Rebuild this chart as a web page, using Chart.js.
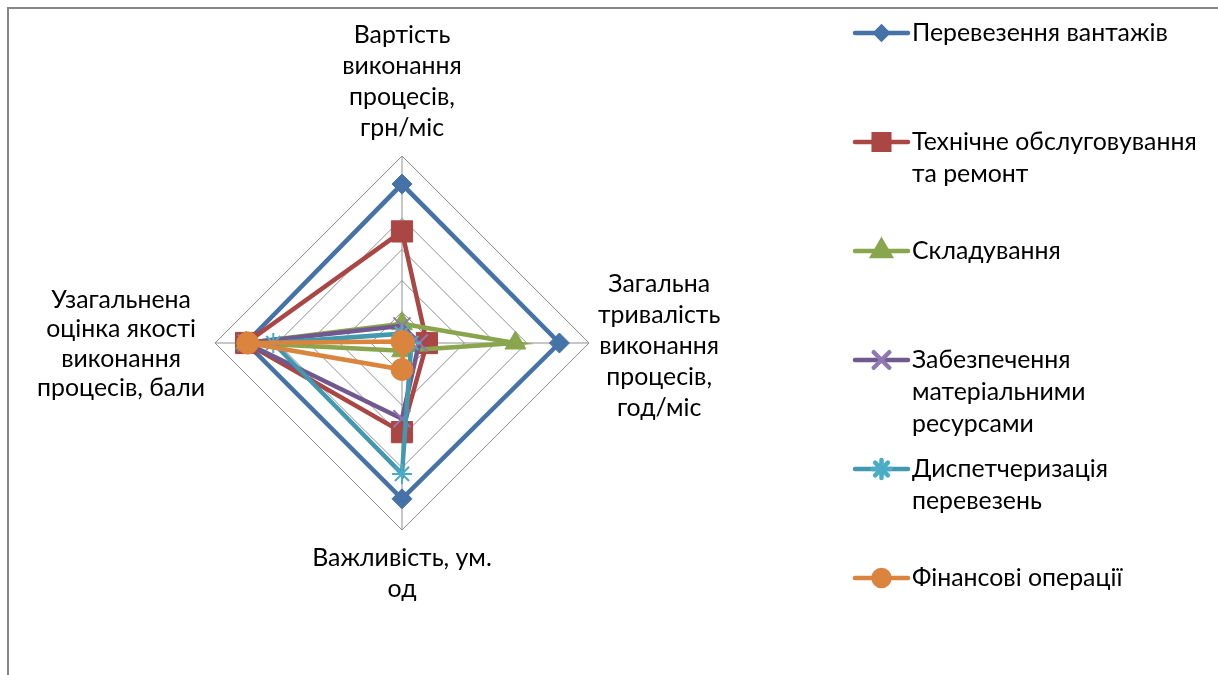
<!DOCTYPE html>
<html><head><meta charset="utf-8">
<script src="https://cdn.jsdelivr.net/npm/chart.js@4.4.1/dist/chart.umd.min.js"></script>
<style>
html,body{margin:0;padding:0;background:#fff;}
#wrap{position:relative;width:1218px;height:675px;overflow:hidden;background:#fff;}
#frame{position:absolute;left:7px;top:7px;right:-10px;bottom:-10px;border-top:2px solid #868686;border-left:2px solid #868686;}
canvas{position:absolute;left:0;top:0;}
</style></head><body>
<div id="wrap"><div id="frame"></div><canvas id="c" width="1218" height="675"></canvas></div>
<script>
// ---- data ----
const axisLabels = [
  ["Вартість", "виконання", "процесів,", "грн/міс"],
  ["Загальна", "тривалість", "виконання", "процесів,", "год/міс"],
  ["Важливість, ум.", "од"],
  ["Узагальнена", "оцінка якості", "виконання", "процесів, бали"]
];
const seriesNames = [
  ["Перевезення вантажів"],
  ["Технічне обслуговування", "та ремонт"],
  ["Складування"],
  ["Забезпечення", "матеріальними", "ресурсами"],
  ["Диспетчеризація", "перевезень"],
  ["Фінансові операції"]
];
const cargo       = [5.1, 5.05, 5.0, 5.0];
const maintenance = [3.58, 0.8, 2.86, 5.0];
const storage     = [0.62, 3.64, 0.25, 5.0];
const supply      = [0.55, 0.55, 2.43, 5.0];
const dispatch    = [0.3, 0.3, 4.2, 4.13];
const finance     = [0.05, 0.05, 0.85, 4.95];
const scaleMin = 0, scaleMax = 6, scaleStep = 1;

// ---- styles ----
const FONT = 'Lato, "Noto Sans", sans-serif';
const colors = ['#4572A7', '#AA4643', '#89A54E', '#71588F', '#4198AF', '#DB843D'];
const markerColors = ['#4572A7', '#AA4643', '#89A54E', '#8F78B0', '#4BACC6', '#DB843D'];
const styles = ['rectRot', 'rect', 'triangle', 'crossRot', 'star', 'circle'];
const radii = [10, 15, 12, 12, 10, 11];
const legendRadii = [6, 11, 10, 11, 9, 8];
const seriesData = [cargo, maintenance, storage, supply, dispatch, finance];

const datasets = seriesData.map((d, i) => ({
  label: seriesNames[i].join(' '),
  data: d,
  borderColor: colors[i],
  backgroundColor: colors[i],
  borderWidth: 4.5,
  fill: false,
  pointStyle: styles[i],
  pointRadius: radii[i],
  pointHoverRadius: radii[i],
  pointBackgroundColor: markerColors[i],
  pointBorderColor: markerColors[i],
  pointBorderWidth: (styles[i] === 'crossRot' || styles[i] === 'star') ? 2 : 1,
  order: 6 - i
}));

// measure font size so legend text width matches
const mctx = document.createElement('canvas').getContext('2d');
mctx.font = '20px ' + FONT;
const FS = 20 * 256 / mctx.measureText('Перевезення вантажів').width;

const overlay = {
  id: 'overlay',
  afterDraw(chart) {
    const ctx = chart.ctx, r = chart.scales.r;
    const R = r.drawingArea;
    ctx.save();
    ctx.font = FS + 'px ' + FONT;
    ctx.fillStyle = '#000';
    ctx.textBaseline = 'middle';
    ctx.textAlign = 'center';
    // axis titles
    const LH = 31;
    axisLabels.forEach((lines, i) => {
      const n = lines.length;
      const maxW = Math.max(...lines.map(t => ctx.measureText(t).width));
      let x, y0;
      if (i === 0) { const p = r.getPointPosition(0, R + 28); x = p.x; y0 = p.y - (n - 1) * LH; }
      else if (i === 1) { const p = r.getPointPosition(1, R + 9); x = p.x + maxW / 2; y0 = p.y + 3 - (n - 1) * LH / 2; }
      else if (i === 2) { const p = r.getPointPosition(2, R + 15); x = p.x; y0 = p.y + 13; }
      else { const p = r.getPointPosition(3, R + 10); x = p.x - maxW / 2; y0 = p.y + 1 - (n - 1) * 29.5 / 2; }
      const lh = i === 3 ? 29.5 : LH;
      lines.forEach((t, k) => ctx.fillText(t, x, y0 + k * lh));
    });
    // legend
    ctx.textAlign = 'left';
    const lx0 = 855, lx1 = 908, tx = 912;
    seriesNames.forEach((lines, i) => {
      const y = 33 + i * 109;
      ctx.strokeStyle = colors[i];
      ctx.lineWidth = 4.5;
      ctx.lineCap = 'round';
      ctx.beginPath(); ctx.moveTo(lx0, y); ctx.lineTo(lx1, y); ctx.stroke();
      ctx.fillStyle = markerColors[i];
      ctx.strokeStyle = markerColors[i];
      Chart.helpers.drawPoint(ctx, {
        pointStyle: styles[i], radius: legendRadii[i], rotation: 0, borderWidth: 1
      }, (lx0 + lx1) / 2, y);
      ctx.fillStyle = '#000';
      lines.forEach((t, k) => ctx.fillText(t, tx, y + k * 32));
    });
    ctx.restore();
  }
};

new Chart(document.getElementById('c'), {
  type: 'radar',
  data: { labels: axisLabels.map(a => a.join(' ')), datasets },
  options: {
    responsive: false,
    animation: false,
    layout: { padding: { left: 215, top: 156, right: 629, bottom: 145 } },
    plugins: { legend: { display: false }, tooltip: { enabled: false } },
    elements: { line: { tension: 0 } },
    scales: {
      r: {
        min: scaleMin, max: scaleMax,
        ticks: { display: false, stepSize: scaleStep },
        pointLabels: { display: false },
        grid: { color: '#8f8f8f', lineWidth: 1 },
        angleLines: { color: '#8f8f8f', lineWidth: 1 }
      }
    }
  },
  plugins: [overlay]
});
</script>
</body></html>
